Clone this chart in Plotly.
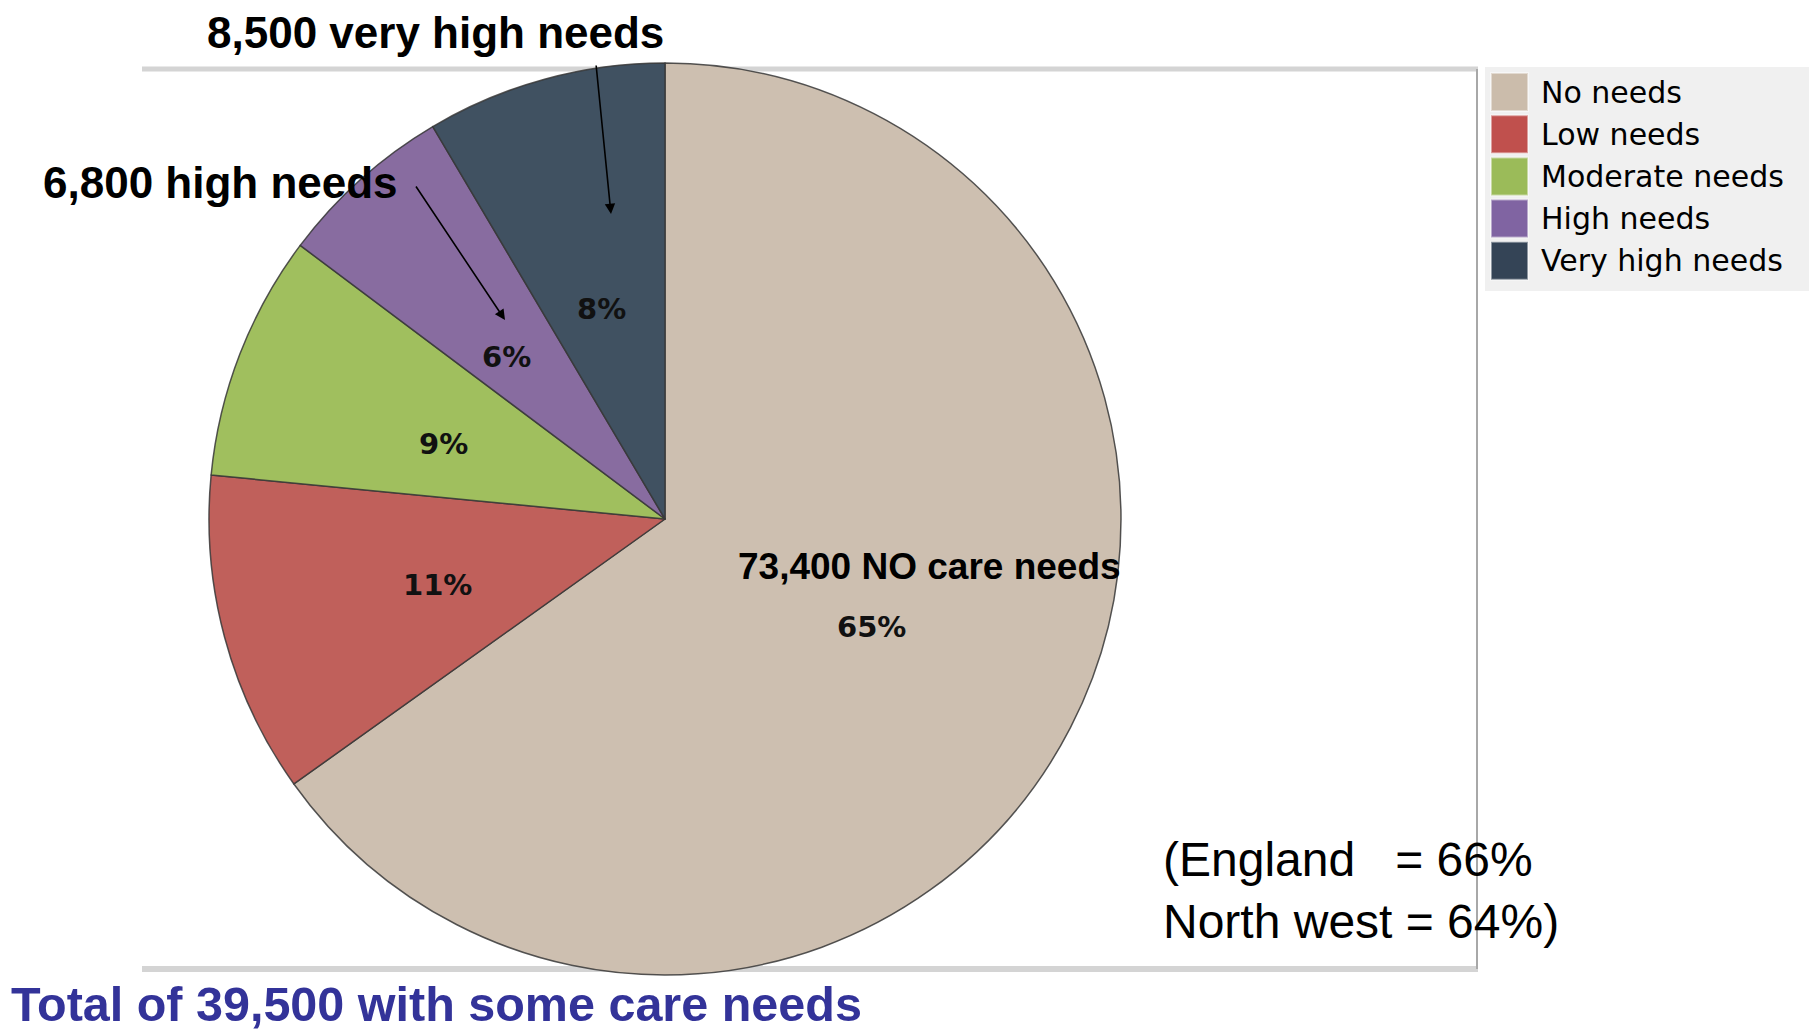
import plotly.graph_objects as go

# ---- data ----
categories = ["No needs", "Low needs", "Moderate needs", "High needs", "Very high needs"]
shares = [65.1, 11.4, 8.7, 6.25, 8.5]          # slice sizes as drawn (%)
pct_labels = ["65%", "11%", "9%", "6%", "8%"]   # labels printed on slices
colors = ["#cdbfb0", "#c0605b", "#a0bf5e", "#886ca0", "#405161"]
legend_colors = ["#cbbcab", "#c0504d", "#9bbb59", "#8064a2", "#344456"]

no_needs_count = "73,400 NO care needs"
very_high_note = "<b>8,500 very high needs</b>"
high_note = "<b>6,800 high needs</b>"
total_note = "<b>Total of 39,500 with some care needs</b>"
compare_note = "(England&nbsp;&nbsp;&nbsp;= 66%<br>North west = 64%)"

# ---- layout (pixel positions on the 1809x1031 page) ----
W, H = 1809, 1031
cx, cy, R = 665, 519, 456
pct_label_pos = [(871, 627), (437, 585), (443, 444), (506, 357), (601, 309)]


def px(x):
    return x / W


def py(y):
    return 1 - y / H


fig = go.Figure()
fig.add_trace(go.Pie(
    labels=categories,
    values=shares,
    sort=False,
    direction="clockwise",
    rotation=0,
    marker=dict(colors=colors, line=dict(color="rgba(55,55,55,0.85)", width=1.5)),
    textinfo="none",
    hoverinfo="label+percent",
    showlegend=False,
    domain=dict(x=[px(cx - R), px(cx + R)], y=[py(cy + R), py(cy - R)]),
))


def note(x, y, text, size, color="#000000", family="Liberation Sans", xanchor="center", align="center"):
    return dict(x=px(x), y=py(y), xref="paper", yref="paper", text=text, showarrow=False,
                xanchor=xanchor, yanchor="middle", align=align,
                font=dict(family=family, size=size, color=color))


annotations = []
for lab, (lx, ly) in zip(pct_labels, pct_label_pos):
    annotations.append(note(lx, ly, "<b>" + lab + "</b>", 29, "#111111", "DejaVu Sans"))

annotations += [
    note(929, 566, "<b>" + no_needs_count + "</b>", 37),
    note(435, 32, very_high_note, 44),
    note(220, 182, high_note, 44),
    note(9, 1004, total_note, 48.5, "#333399", xanchor="left"),
    note(1161, 890, compare_note, 48, xanchor="left", align="left"),
    # arrows
    dict(x=px(611), y=py(214), xref="paper", yref="paper", text="", showarrow=True,
         ax=-15, ay=-150, arrowhead=2, arrowsize=1.3, arrowwidth=1.6, arrowcolor="#000000",
         standoff=0, startstandoff=0),
    dict(x=px(505), y=py(320), xref="paper", yref="paper", text="", showarrow=True,
         ax=-90, ay=-135, arrowhead=2, arrowsize=1.3, arrowwidth=1.6, arrowcolor="#000000",
         standoff=0, startstandoff=0),
]

shapes = [
    # chart frame
    dict(type="line", xref="paper", yref="paper", x0=px(142), x1=px(1478), y0=py(69), y1=py(69),
         line=dict(color="#d4d4d4", width=5), layer="below"),
    dict(type="line", xref="paper", yref="paper", x0=px(142), x1=px(1478), y0=py(969), y1=py(969),
         line=dict(color="#d4d4d4", width=6), layer="below"),
    dict(type="line", xref="paper", yref="paper", x0=px(1477), x1=px(1477), y0=py(69), y1=py(969),
         line=dict(color="#a8a8a8", width=2), layer="below"),
    # legend background
    dict(type="rect", xref="paper", yref="paper", x0=px(1485), x1=px(1809), y0=py(67), y1=py(291),
         fillcolor="#f0f0f0", line=dict(width=0), layer="below"),
]

row0, step, sw = 73, 42.2, 38
for i, (cat, col) in enumerate(zip(categories, legend_colors)):
    top = row0 + i * step
    shapes.append(dict(type="rect", xref="paper", yref="paper",
                       x0=px(1491), x1=px(1528), y0=py(top + sw), y1=py(top),
                       fillcolor=col, line=dict(color="rgba(255,255,255,0.45)", width=2)))
    annotations.append(note(1539, top + sw / 2, cat, 30, family="DejaVu Sans", xanchor="left"))

fig.update_layout(
    width=W, height=H,
    margin=dict(l=0, r=0, t=0, b=0),
    paper_bgcolor="#ffffff",
    plot_bgcolor="#ffffff",
    showlegend=False,
    annotations=annotations,
    shapes=shapes,
)

fig.write_html("out.html", config={"displayModeBar": False},
               post_script="document.body.style.margin='0';")
